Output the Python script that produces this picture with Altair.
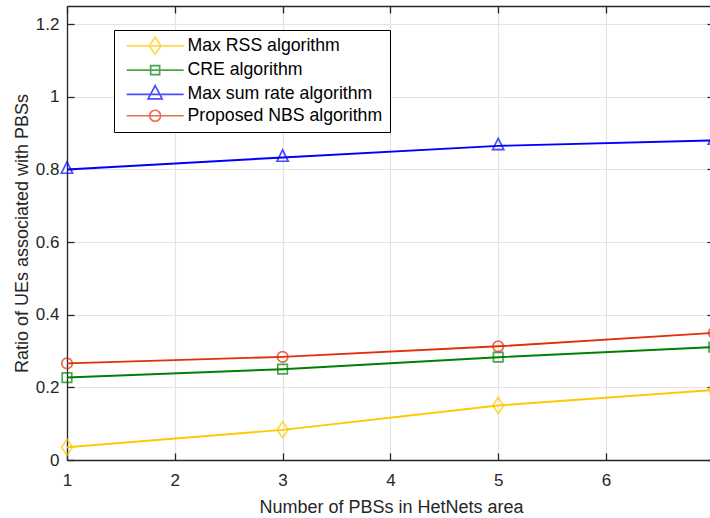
import altair as alt
import pandas as pd

# ---- data ----
x_values = [1, 3, 5, 7]
series_names = ["Max RSS algorithm", "CRE algorithm", "Max sum rate algorithm", "Proposed NBS algorithm"]
max_rss = [0.035, 0.083, 0.150, 0.193]
cre = [0.227, 0.250, 0.283, 0.311]
max_sum_rate = [0.800, 0.833, 0.865, 0.880]
proposed_nbs = [0.266, 0.284, 0.313, 0.350]
x_ticks = [1, 2, 3, 4, 5, 6, 7]
y_ticks = [0, 0.2, 0.4, 0.6, 0.8, 1.0, 1.2]

colors = ["#FFC800", "#008000", "#0000FF", "#E0300A"]

rows = []
for name, vals in zip(series_names, [max_rss, cre, max_sum_rate, proposed_nbs]):
    for xv, yv in zip(x_values, vals):
        rows.append({"x": xv, "y": yv, "series": name})
df = pd.DataFrame(rows)

# marker outlines (pixel units, drawn with size 4 -> scale 1)
plot_paths = [
    "M0,-8L5.5,0L0,8L-5.5,0Z",
    "M-4.75,-4.75H4.75V4.75H-4.75Z",
    "M0,-7.5L5.6,3.8H-5.6Z",
    "M-5.25,0A5.25,5.25 0 1,0 5.25,0A5.25,5.25 0 1,0 -5.25,0Z",
]
legend_paths = [
    "M-28.5,0H28.5M0,-8.5L5.8,0L0,8.5L-5.8,0Z",
    "M-28.5,0H28.5M-4.5,-4.5H4.5V4.5H-4.5Z",
    "M-28.5,0H28.5M0,-8.9L7,4.4H-7Z",
    "M-28.5,0H28.5M-5.5,0A5.5,5.5 0 1,0 5.5,0A5.5,5.5 0 1,0 -5.5,0Z",
]

W, H = 643, 454
XMAX = 1 + W / 107.8

xscale = alt.Scale(domain=[1, XMAX], nice=False, zero=False)
yscale = alt.Scale(domain=[0, 1.25], nice=False, zero=False)
cscale = alt.Scale(domain=series_names, range=colors)

base = alt.Chart(df)

lines = base.mark_line(strokeWidth=1.9).encode(
    x=alt.X("x:Q", scale=xscale,
            axis=alt.Axis(orient="bottom", values=x_ticks, grid=True, ticks=False,
                          domain=True, labelPadding=12, labelFlush=False,
                          title="Number of PBSs in HetNets area",
                          titleX=324, titleY=52, titleBaseline="alphabetic",
                          titleAlign="center")),
    y=alt.Y("y:Q", scale=yscale,
            axis=alt.Axis(orient="left", values=y_ticks, format="~g", grid=True, ticks=False,
                          domain=True, labelPadding=8, labelFlush=False,
                          title="Ratio of UEs associated with PBSs",
                          titleX=-40, titleY=H / 2, titleBaseline="alphabetic", titleAngle=-90,
                          titleAlign="center")),
    color=alt.Color("series:N", scale=cscale, legend=None),
)

points = base.mark_point(size=4, strokeWidth=1.7, filled=False).encode(
    x=alt.X("x:Q", scale=xscale,
            axis=alt.Axis(orient="top", offset=-H, values=x_ticks, labels=False, domain=False,
                          grid=False, ticks=True, tickSize=7, title=None)),
    y=alt.Y("y:Q", scale=yscale,
            axis=alt.Axis(orient="right", offset=-W, values=y_ticks, labels=False, domain=False,
                          grid=False, ticks=True, tickSize=7, title=None)),
    color=alt.Color("series:N", scale=cscale, legend=None),
    shape=alt.Shape("series:N", scale=alt.Scale(domain=series_names, range=plot_paths), legend=None),
)

frame = base.mark_point(clip=True, opacity=0).encode(
    x=alt.X("x:Q", scale=xscale,
            axis=alt.Axis(orient="bottom", offset=-H, values=x_ticks, labels=False, domain=True,
                          grid=False, ticks=True, tickSize=7, title=None)),
    y=alt.Y("y:Q", scale=yscale,
            axis=alt.Axis(orient="left", offset=-W, values=y_ticks, labels=False, domain=False,
                          grid=False, ticks=True, tickSize=3, title=None)),
)

legend_props = dict(orient="none", legendX=47, legendY=24, title=None,
                    direction="vertical", padding=7, symbolSize=4,
                    symbolStrokeWidth=1.7, symbolOffset=25.3, labelOffset=23.5,
                    labelFontSize=17.7, labelFont="Liberation Sans",
                    labelColor="black", strokeColor="black", fillColor="white",
                    rowPadding=2.3, labelLimit=0, cornerRadius=0)

legend_layer = base.transform_filter("false").mark_point(size=4, strokeWidth=1.7, filled=False).encode(
    color=alt.Color("series:N", scale=cscale, legend=alt.Legend(**legend_props)),
    shape=alt.Shape("series:N", scale=alt.Scale(domain=series_names, range=legend_paths),
                    legend=alt.Legend(**legend_props)),
)

chart = alt.layer(lines, points, frame, legend_layer).resolve_axis(
    x="independent", y="independent"
).resolve_scale(color="independent", shape="independent").properties(
    width=W, height=H,
    autosize=alt.AutoSizeParams(type="none"),
    padding={"left": 67, "top": 6, "right": 0, "bottom": 58},
).configure_view(stroke=None).configure_axis(
    labelFont="Liberation Sans", titleFont="Liberation Sans",
    labelFontSize=17, titleFontSize=18, titleFontWeight="normal",
    labelColor="#262626", titleColor="#262626",
    domainColor="#262626", tickColor="#262626", domainWidth=1.3, tickWidth=1.3,
    gridColor="#e3e3e3", gridWidth=1.2,
)

chart.save("out.html", embed_options={"renderer": "svg", "actions": False})
